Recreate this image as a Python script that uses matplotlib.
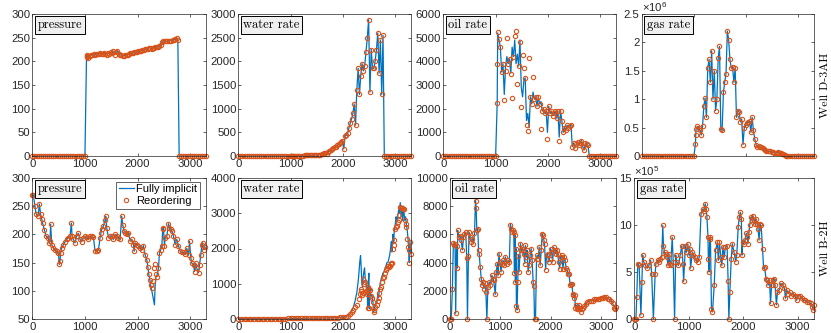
import numpy as np
import matplotlib.pyplot as plt
from matplotlib.ticker import FuncFormatter

plt.rcParams['font.family'] = ['Liberation Sans', 'DejaVu Sans']
plt.rcParams['mathtext.fontset'] = 'custom'
plt.rcParams['mathtext.rm'] = 'Liberation Sans'
plt.rcParams['mathtext.it'] = 'Liberation Sans:italic'

BLUE = '#0072BD'
ORANGE = '#D95319'
W, H = 831, 333

# ---------------- Well D-3AH (shared report steps) ----------------
d3ah_t_shut1 = [0, 40, 80, 120, 160, 200, 240, 280, 320, 360, 400, 440, 480,
                520, 560, 600, 640, 680, 720, 760, 800, 840, 880, 920, 960, 1000]
d3ah_shut1 = [0, 0, 0, 0, 0, 0, 0, 0, 0, 0, 0, 0, 0,
              0, 0, 0, 0, 0, 0, 0, 0, 0, 0, 0, 0, 0]
d3ah_t_shut2 = [2790, 2830, 2870, 2910, 2950, 2990, 3030, 3070, 3110, 3150,
                3190, 3230, 3270, 3295]
d3ah_shut2 = [0, 0, 0, 0, 0, 0, 0, 0, 0, 0, 0, 0, 0, 0]

d3ah_t_open = [1030, 1035,
               1040, 1065, 1090, 1115, 1140, 1165, 1190, 1215, 1240, 1265,
               1290, 1315, 1340, 1365, 1390, 1415, 1440, 1465, 1490, 1515,
               1540, 1565, 1590, 1615, 1640, 1665, 1690, 1715, 1740, 1765,
               1790, 1815, 1840, 1865, 1890, 1915, 1940, 1965, 1990, 2015,
               2040, 2065, 2090, 2115, 2140, 2165, 2190, 2215, 2240, 2265,
               2290, 2315, 2340, 2365, 2390, 2415, 2440, 2465, 2490, 2515,
               2540, 2565, 2590, 2615, 2640, 2665, 2690, 2715, 2740, 2765]

d3ah_pres = [210, 214,
             212, 208, 212, 213, 214, 215, 214, 216, 215, 216,
             217, 215, 216, 218, 216, 214, 218, 216, 219, 217,
             221, 214, 219, 221, 216, 214, 213, 212, 212, 213,
             214, 214, 216, 217, 218, 217, 219, 220, 219, 221,
             222, 222, 223, 224, 225, 225, 226, 229, 228, 227,
             228, 229, 230, 231, 230, 232, 235, 240, 242, 243,
             242, 243, 243, 244, 244, 245, 245, 247, 249, 246]

d3ah_water = [4, 5,
              5, 5, 6, 6, 7, 8, 8, 9, 10, 11,
              12, 13, 14, 15, 16, 18, 20, 22, 24, 26,
              28, 30, 35, 40, 55, 60, 45, 80, 110, 130,
              150, 170, 190, 200, 240, 250, 280, 300, 320, 150,
              420, 440, 480, 600, 700, 780, 900, 1100, 650, 1400,
              1850, 1300, 1700, 1950, 1800, 1900, 2200, 2500, 2880, 1350,
              2250, 1850, 1850, 2000, 2250, 2600, 1750, 2450, 1300, 2550]

d3ah_oil_fi = [2260, 3900,
               5200, 4900, 4600, 3550, 3900, 2600, 3800, 4200, 3900, 4100,
               3500, 4600, 4200, 4900, 3900, 4300, 3800, 4900, 2900, 2500,
               3200, 3300, 1500, 1800, 1200, 2500, 2200, 2700, 2400, 2500,
               2100, 2500, 2200, 2300, 1900, 2000, 1800, 1900, 1000, 2100,
               1800, 1900, 1700, 1800, 1900, 1600, 1900, 800, 1900, 1500,
               1000, 1200, 1100, 1300, 1200, 1250, 1300, 400, 550, 350,
               500, 600, 450, 550, 650, 400, 250, 550, 500, 450]
d3ah_oil_ro = [2260, 3900,
               5250, 4950, 4600, 3550, 3900, 2360, 3600, 5000, 3900, 4100,
               3450, 2450, 4200, 5050, 5300, 3050, 3800, 4800, 2070, 4250,
               3700, 3300, 1300, 1060, 4150, 2500, 2200, 3350, 2400, 2500,
               2100, 2500, 2200, 1150, 1900, 2000, 1800, 1900, 720, 2100,
               1800, 1900, 1700, 1800, 1900, 1600, 1900, 650, 1900, 1500,
               1000, 1200, 1100, 1300, 1200, 1250, 1300, 400, 550, 350,
               500, 600, 450, 550, 650, 400, 250, 550, 500, 450]

# gas in 1e6 units
d3ah_gas = [0.22, 0.37,
            0.47, 0.52, 0.50, 0.45, 0.37, 0.52, 0.88, 1.02, 0.68, 1.55,
            1.70, 1.30, 1.85, 1.00, 1.50, 0.80, 1.00, 1.72, 1.93, 0.48,
            0.45, 1.12, 1.30, 1.45, 2.20, 2.05, 1.70, 1.55, 1.57, 1.30,
            1.55, 0.68, 0.80, 0.78, 0.60, 0.65, 0.20, 0.50, 0.55, 0.58,
            0.60, 0.62, 0.42, 0.68, 0.45, 0.30, 0.20, 0.15, 0.17, 0.16,
            0.15, 0.14, 0.12, 0.10, 0.09, 0.09, 0.08, 0.08, 0.07, 0.07,
            0.06, 0.06, 0.06, 0.07, 0.06, 0.05, 0.04, 0.03, 0.01, 0.0]

# ---------------- Well B-2H ----------------
b2h_pres_t = [0, 19, 50, 70, 114, 133, 158, 177, 196, 230,
              260, 304, 323, 336, 349, 368, 400, 430, 463, 495,
              514, 525, 539, 558, 590, 621, 653, 685, 717, 742,
              755, 780, 812, 843, 875, 907, 938, 970, 1002, 1034,
              1065, 1097, 1129, 1160, 1192, 1224, 1256, 1287, 1306, 1319,
              1351, 1382, 1395, 1414, 1446, 1478, 1509, 1541, 1573, 1604,
              1636, 1668, 1699, 1718, 1744, 1763, 1795, 1826, 1858, 1890,
              1921, 1935, 1953, 1985, 2016, 2048, 2080, 2112, 2143, 2175,
              2194, 2213, 2232, 2251, 2270, 2295, 2321, 2334, 2350, 2365,
              2397, 2416, 2441, 2460, 2479, 2492, 2511, 2524, 2556, 2587,
              2606, 2632, 2651, 2682, 2714, 2746, 2777, 2809, 2841, 2873,
              2904, 2936, 2968, 2987, 3012, 3031, 3063, 3082, 3101, 3126,
              3158, 3177, 3202, 3221, 3234, 3253, 3285]
b2h_pres_fi = [270, 270, 250, 237, 233, 254, 236, 228, 220, 208,
               197, 194, 185, 189, 218, 182, 176, 173, 170, 167,
               147, 152, 167, 176, 182, 187, 191, 194, 197, 220,
               197, 191, 185, 197, 202, 191, 187, 194, 197, 195,
               191, 197, 197, 195, 171, 171, 172, 194, 203, 209,
               215, 225, 232, 212, 194, 197, 197, 191, 200, 197,
               194, 191, 232, 217, 206, 203, 200, 203, 188, 191,
               182, 170, 185, 182, 179, 176, 173, 180, 164, 155,
               143, 129, 120, 108, 100, 88, 75, 110, 125, 126,
               140, 167, 173, 179, 210, 212, 180, 194, 197, 219,
               212, 209, 206, 197, 182, 191, 180, 170, 168, 168,
               165, 175, 163, 188, 158, 149, 146, 134, 149, 140,
               132, 146, 164, 182, 185, 173, 177]
b2h_pres_ro = [270, 270, 250, 237, 233, 254, 236, 228, 220, 208,
               197, 194, 185, 189, 218, 182, 176, 173, 170, 167,
               147, 152, 167, 176, 182, 187, 191, 194, 197, 220,
               197, 191, 185, 197, 202, 191, 187, 194, 197, 195,
               191, 197, 197, 195, 171, 171, 172, 194, 203, 209,
               215, 225, 232, 212, 194, 197, 197, 191, 200, 197,
               194, 191, 232, 217, 206, 203, 200, 203, 188, 191,
               182, 170, 185, 182, 179, 176, 173, 180, 164, 155,
               143, 129, 120, 110, 105, 118, 140, 148, 130, 124,
               140, 167, 173, 179, 210, 212, 180, 194, 197, 219,
               212, 209, 206, 197, 182, 191, 180, 170, 168, 168,
               165, 175, 163, 188, 158, 149, 146, 134, 149, 140,
               132, 146, 164, 182, 185, 173, 177]

b2h_water_t = [0, 50, 100, 150, 200, 250, 300, 350, 400, 450,
               500, 550, 600, 650, 700, 750, 800, 850, 900, 950,
               1000, 1050, 1100, 1150, 1200, 1250, 1300, 1350, 1400, 1450,
               1500, 1550, 1600, 1650, 1700, 1750, 1800, 1850, 1900, 1950,
               2000, 2050, 2100, 2140, 2170, 2200, 2230, 2265, 2297, 2320,
               2336, 2350, 2361, 2375, 2387, 2400, 2412, 2425, 2440, 2450,
               2465, 2470, 2482, 2495, 2502, 2514, 2533, 2550, 2572, 2585,
               2600, 2617, 2648, 2665, 2680, 2693, 2710, 2725, 2744, 2763,
               2789, 2805, 2821, 2840, 2859, 2875, 2891, 2910, 2925, 2935,
               2955, 2970, 2980, 3000, 3015, 3030, 3050, 3065, 3076, 3095,
               3110, 3127, 3140, 3159, 3178, 3197, 3210, 3229, 3242, 3255,
               3267, 3280, 3300]
b2h_water_fi = [10, 10, 10, 10, 10, 10, 10, 10, 10, 10,
                10, 11, 11, 12, 12, 13, 13, 14, 14, 15,
                15, 16, 17, 18, 18, 19, 20, 21, 22, 23,
                24, 25, 27, 28, 30, 32, 35, 38, 42, 48,
                55, 70, 100, 150, 230, 350, 500, 750, 1150, 1600,
                1800, 1400, 1000, 900, 1200, 1350, 1450, 1150, 1100, 800,
                900, 350, 950, 1300, 300, 850, 650, 700, 500, 200,
                300, 400, 450, 700, 600, 800, 1000, 1100, 1200, 1300,
                1350, 1450, 1500, 1600, 1600, 1700, 1800, 2000, 2200, 1900,
                2400, 2200, 2500, 2700, 2900, 2800, 2950, 3100, 3000, 3300,
                2900, 3150, 2800, 3200, 2800, 2900, 2700, 2500, 2300, 2000,
                1600, 2200, 1850]
b2h_water_ro = [10, 10, 10, 10, 10, 10, 10, 10, 10, 10,
                10, 11, 11, 12, 12, 13, 13, 14, 14, 15,
                15, 16, 17, 18, 18, 19, 20, 21, 22, 23,
                24, 25, 27, 28, 30, 32, 35, 38, 42, 48,
                55, 70, 95, 140, 200, 250, 330, 400, 580, 700,
                790, 865, 680, 750, 1130, 1000, 770, 1050, 800, 770,
                700, 320, 910, 850, 300, 820, 650, 600, 490, 200,
                260, 350, 400, 500, 600, 750, 850, 910, 1050, 1150,
                1200, 1300, 1400, 1450, 1500, 1480, 1500, 1550, 1580, 1600,
                2000, 2100, 2230, 2540, 2600, 2650, 2750, 2800, 2940, 3170,
                3150, 3150, 3120, 3125, 2800, 2700, 2600, 2260, 2040, 1950,
                1580, 2180, 1850]

b2h_oil_t = [0, 12, 25, 47, 67, 87, 100, 113, 130, 147,
             153, 173, 200, 220, 247, 267, 287, 313, 333, 347,
             367, 380, 400, 420, 447, 467, 487, 507, 520, 533,
             553, 567, 580, 600, 620, 633, 653, 673, 693, 713,
             733, 753, 780, 800, 833, 853, 867, 900, 920, 940,
             953, 973, 993, 1013, 1033, 1053, 1080, 1100, 1133, 1153,
             1180, 1200, 1220, 1240, 1253, 1267, 1280, 1293, 1300, 1313,
             1320, 1333, 1347, 1360, 1373, 1400, 1420, 1440, 1467, 1487,
             1500, 1520, 1533, 1553, 1573, 1593, 1613, 1633, 1653, 1667,
             1680, 1700, 1720, 1733, 1753, 1773, 1793, 1813, 1833, 1847,
             1867, 1880, 1900, 1920, 1940, 1960, 1980, 2000, 2020, 2040,
             2060, 2080, 2100, 2120, 2140, 2160, 2180, 2200, 2220, 2247,
             2267, 2287, 2307, 2327, 2347, 2367, 2387, 2407, 2427, 2440,
             2453, 2467, 2480, 2493, 2507, 2520, 2533, 2553, 2567, 2587,
             2600, 2620, 2640, 2667, 2700, 2733, 2767, 2800, 2833, 2867,
             2900, 2933, 2967, 3000, 3033, 3067, 3100, 3133, 3167, 3200,
             3233, 3267, 3285, 3300]
b2h_oil = [0, 0, 0, 2100, 5400, 5270, 5300, 400, 5200, 3620,
           6280, 5800, 5900, 5580, 4900, 5800, 6050, 6160, 4300, 0,
           4500, 6160, 5810, 5460, 5700, 5340, 6090, 8400, 7900, 6280,
           6400, 4870, 4640, 3700, 2870, 2400, 2630, 2160, 2520, 1930,
           0, 2280, 2630, 2400, 3100, 2870, 2750, 1750, 3340, 3930,
           3100, 4640, 4050, 3340, 3930, 4160, 3810, 4400, 3930, 4160,
           4050, 6700, 6400, 6160, 6280, 6160, 3250, 5930, 2600, 4990,
           900, 640, 2600, 4500, 3340, 5340, 4870, 4990, 4640, 3930,
           5220, 4400, 4870, 3340, 3810, 4520, 4990, 4160, 2600, 2350,
           0, 0, 4280, 4520, 4280, 5100, 3810, 4870, 6050, 5930,
           5580, 5340, 3500, 4520, 4640, 4050, 4280, 4990, 4750, 4050,
           5100, 4870, 4640, 4870, 4640, 4050, 3580, 4400, 4520, 3580,
           4400, 4200, 3600, 3500, 3200, 3220, 2400, 2450, 2500, 1700,
           1800, 1500, 1700, 800, 1000, 700, 800, 750, 1000, 800,
           500, 700, 800, 900, 1050, 1200, 1250, 1300, 1300, 1400,
           1400, 1450, 1450, 1500, 1500, 1550, 1550, 1450, 1400, 1300,
           1100, 800, 700, 850]

# gas in 1e5 units
b2h_gas_t = [0, 15, 30, 45, 64, 89, 121, 140, 153, 172,
             204, 236, 268, 300, 319, 350, 383, 396, 428, 460,
             479, 504, 523, 536, 555, 574, 600, 619, 638, 651,
             670, 696, 715, 740, 760, 779, 810, 842, 874, 893,
             906, 938, 957, 983, 1002, 1021, 1034, 1066, 1085, 1110,
             1130, 1161, 1193, 1225, 1257, 1276, 1302, 1321, 1334, 1353,
             1360, 1372, 1385, 1398, 1417, 1436, 1468, 1493, 1525, 1544,
             1563, 1589, 1608, 1627, 1653, 1672, 1704, 1723, 1736, 1755,
             1780, 1800, 1831, 1863, 1882, 1908, 1927, 1946, 1966, 1978,
             1991, 2010, 2036, 2055, 2074, 2087, 2106, 2119, 2138, 2157,
             2176, 2195, 2214, 2233, 2253, 2272, 2291, 2310, 2329, 2355,
             2374, 2393, 2419, 2438, 2457, 2483, 2502, 2521, 2540, 2565,
             2585, 2610, 2629, 2661, 2693, 2725, 2757, 2776, 2801, 2821,
             2853, 2884, 2916, 2948, 2980, 3012, 3044, 3076, 3108, 3140,
             3172, 3204, 3236, 3267, 3287, 3300]
b2h_gas = [0, 0, 0, 2.36, 5.9, 5.7, 0.42, 3.95, 6.8, 6.1,
           5.7, 5.4, 5.7, 6.25, 4.8, 0, 4.8, 5.9, 6.25, 6.1,
           6.4, 6.6, 9.95, 7.8, 7.1, 6.95, 6.6, 5.7, 6.95, 5.8,
           5.7, 8.7, 6.1, 0, 6.8, 6.1, 5.7, 6.8, 7.8, 5.9,
           4.0, 7.8, 7.1, 8.0, 6.8, 7.5, 5.4, 7.1, 6.8, 6.6,
           6.25, 6.1, 6.6, 11.2, 11.7, 11.5, 12.25, 11.7, 10.8, 8.7,
           6.4, 5.0, 8.5, 8.7, 1.1, 0.75, 3.6, 7.3, 8.2, 6.25,
           8.2, 6.6, 5.7, 7.65, 6.6, 7.65, 7.8, 4.0, 0, 2.9,
           6.4, 8.0, 7.1, 6.1, 6.8, 9.8, 10.8, 11.35, 10.65, 6.8,
           8.2, 8.0, 8.4, 9.1, 8.7, 8.0, 9.25, 9.95, 10.8, 10.5,
           11.0, 10.5, 10.1, 10.65, 10.1, 9.6, 8.4, 10.1, 9.95, 7.5,
           5.4, 5.5, 4.3, 4.1, 3.6, 4.1, 1.66, 3.6, 4.1, 4.3,
           3.6, 1.5, 2.9, 3.1, 3.8, 3.6, 3.25, 2.2, 3.1, 2.7,
           2.9, 2.5, 2.7, 2.5, 2.0, 2.4, 2.5, 2.2, 2.0, 2.0,
           1.8, 1.8, 1.66, 1.3, 0.95, 1.5]

titles = ['pressure', 'water rate', 'oil rate', 'gas rate']
wells = ['Well D-3AH', 'Well B-2H']

d_t = d3ah_t_shut1 + d3ah_t_open + d3ah_t_shut2


def d_series(vals):
    return d3ah_shut1 + vals + d3ah_shut2


fig = plt.figure(figsize=(W / 100, H / 100), dpi=100)


def make_axes(l, r, t, b):
    return fig.add_axes([l / W, 1 - b / H, (r - l) / W, (b - t) / H])


def style(ax, ylim, yticks):
    ax.set_xlim(0, 3300)
    ax.set_xticks([0, 1000, 2000, 3000])
    ax.set_ylim(*ylim)
    ax.set_yticks(yticks)
    ax.tick_params(direction='in', length=2.5, width=0.5, top=True, right=True,
                   labelsize=8.2, colors='0.15', pad=1.5)
    ax.tick_params(axis='x', pad=2.2)
    for s in ax.spines.values():
        s.set_color('0.15')
        s.set_linewidth(0.5)


def draw(ax, t, fi, ro, scale=1.0):
    h1, = ax.plot(t, np.array(fi) * scale, color=BLUE, lw=0.9)
    h2, = ax.plot(t, np.array(ro) * scale, ls='none', marker='o', ms=3.1,
                  mfc='none', mec=ORANGE, mew=0.8, clip_on=False)
    return h1, h2


def title_box(ax, text):
    ax.text(0.03, 0.965, text, transform=ax.transAxes, ha='left', va='top',
            family='cmr10', fontsize=9, zorder=5,
            bbox=dict(boxstyle='square,pad=0.2', fc='#f0f0f0', ec='k', lw=0.7))


top_pos = [(32.3, 206), (238.3, 411), (443.3, 616), (641.7, 814)]
bot_pos = [(32.3, 206), (238.3, 411), (450, 616), (634.3, 814)]

# top row: Well D-3AH
ax = make_axes(*top_pos[0], 14, 156)
draw(ax, d_t, d_series(d3ah_pres), d_series(d3ah_pres))
style(ax, (0, 300), np.arange(0, 301, 50))
title_box(ax, titles[0])

ax = make_axes(*top_pos[1], 14, 156)
draw(ax, d_t, d_series(d3ah_water), d_series(d3ah_water))
style(ax, (0, 3000), np.arange(0, 3001, 500))
title_box(ax, titles[1])

ax = make_axes(*top_pos[2], 14, 156)
draw(ax, d_t, d_series(d3ah_oil_fi), d_series(d3ah_oil_ro))
style(ax, (0, 6000), np.arange(0, 6001, 1000))
title_box(ax, titles[2])

ax = make_axes(*top_pos[3], 14, 156)
draw(ax, d_t, d_series(d3ah_gas), d_series(d3ah_gas), 1e6)
style(ax, (0, 2.5e6), np.arange(0, 2.51e6, 0.5e6))
ax.yaxis.set_major_formatter(FuncFormatter(lambda v, p: f'{v / 1e6:g}'))
ax.set_xticklabels([])
ax.text(0, 0.997, r'$\times10^{6}$', transform=ax.transAxes, ha='left',
        va='bottom', fontsize=8.2, color='0.15')
title_box(ax, titles[3])

# bottom row: Well B-2H
ax = make_axes(*bot_pos[0], 178, 319)
h_fi, h_ro = draw(ax, b2h_pres_t, b2h_pres_fi, b2h_pres_ro)
style(ax, (50, 300), np.arange(50, 301, 50))
title_box(ax, titles[0])
leg = ax.legend([h_fi, h_ro], ['Fully implicit', 'Reordering'], loc='upper right',
                bbox_to_anchor=(0.966, 0.975), fontsize=8, frameon=True,
                fancybox=False, edgecolor='0.15', framealpha=1, borderpad=0.25,
                labelspacing=0.15, handlelength=1.3, handletextpad=0.25,
                borderaxespad=0)
leg.get_frame().set_linewidth(0.5)

ax = make_axes(*bot_pos[1], 178, 319)
draw(ax, b2h_water_t, b2h_water_fi, b2h_water_ro)
style(ax, (0, 4000), np.arange(0, 4001, 1000))
title_box(ax, titles[1])

ax = make_axes(*bot_pos[2], 178, 319)
draw(ax, b2h_oil_t, b2h_oil, b2h_oil)
style(ax, (0, 10000), np.arange(0, 10001, 2000))
title_box(ax, titles[2])

ax = make_axes(*bot_pos[3], 178, 319)
draw(ax, b2h_gas_t, b2h_gas, b2h_gas, 1e5)
style(ax, (0, 1.5e6), np.arange(0, 1.51e6, 5e5))
ax.yaxis.set_major_formatter(FuncFormatter(lambda v, p: f'{v / 1e5:g}'))
ax.text(0, 0.997, r'$\times10^{5}$', transform=ax.transAxes, ha='left',
        va='bottom', fontsize=8.2, color='0.15')
title_box(ax, titles[3])

fig.text(825 / W, 1 - 85 / H, wells[0], rotation=90, ha='center', va='center',
         family='cmr10', fontsize=8.6)
fig.text(825 / W, 1 - 248.5 / H, wells[1], rotation=90, ha='center', va='center',
         family='cmr10', fontsize=8.6)

fig.savefig('out.png', dpi=100)
